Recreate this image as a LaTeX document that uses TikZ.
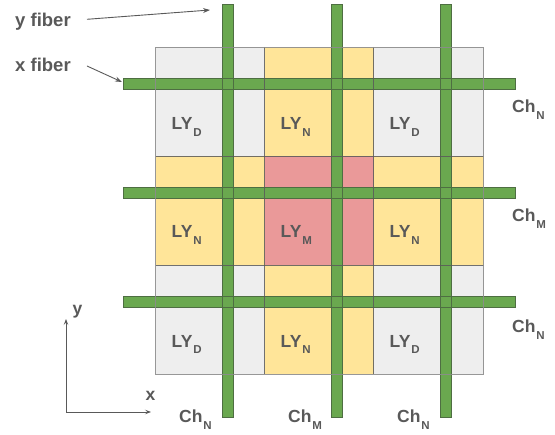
\documentclass[tikz,border=0pt]{standalone}
\usepackage{fontspec}
\setmainfont{Liberation Sans}
\usetikzlibrary{arrows.meta}
\definecolor{cgrey}{HTML}{EEEEEE}
\definecolor{cyellow}{HTML}{FFE599}
\definecolor{cpink}{HTML}{EA9999}
\definecolor{cgreen}{HTML}{6AA84F}
\definecolor{cgreenline}{HTML}{4E6E42}
\definecolor{ctxt}{HTML}{595959}
\definecolor{cgrid}{HTML}{5A5A5A}
\definecolor{couter}{HTML}{8C8C8C}
\newcommand\mysub[1]{\kern0.8pt\raisebox{-6.6pt}{\fontsize{11.5}{12}\selectfont #1}}
\tikzset{
  lab/.style={font=\fontsize{17.5}{20}\selectfont\bfseries, text=ctxt, anchor=base west, inner sep=0pt},
  fiblab/.style={font=\fontsize{18.5}{20}\selectfont\bfseries, text=ctxt, anchor=base west, inner sep=0pt},
  fiber/.style={fill=cgreen, draw=cgreenline, line width=0.9pt},
  cell/.style={line width=0pt},
  gridline/.style={draw=cgrid, line width=0.9pt, opacity=0.85},
  outerline/.style={draw=couter, line width=0.9pt},
  arr/.style={draw=ctxt, line width=0.9pt, -{Stealth[length=7pt,width=5pt]}},
  axarr/.style={draw=ctxt, line width=0.9pt, -{Stealth[length=6pt,width=4.5pt,inset=2.5pt]}}
}
\begin{document}
\begin{tikzpicture}[x=1pt,y=-1pt]
\useasboundingbox (0,0) rectangle (555,435);
% cells
\fill[cgrey]   (155.5,47)    rectangle (264.5,156);
\fill[cyellow] (264.5,47)    rectangle (373.5,156);
\fill[cgrey]   (373.5,47)    rectangle (483.5,156);
\fill[cyellow] (155.5,156)   rectangle (264.5,265.5);
\fill[cpink]   (264.5,156)   rectangle (373.5,265.5);
\fill[cyellow] (373.5,156)   rectangle (483.5,265.5);
\fill[cgrey]   (155.5,265.5) rectangle (264.5,374.5);
\fill[cyellow] (264.5,265.5) rectangle (373.5,374.5);
\fill[cgrey]   (373.5,265.5) rectangle (483.5,374.5);
% fibers (fills)
\fill[cgreen] (123,78) rectangle (515.5,89);
\fill[cgreen] (123,187) rectangle (515.5,198);
\fill[cgreen] (123,296) rectangle (515.5,307);
\fill[cgreen] (222,4) rectangle (233,417.5);
\fill[cgreen] (331,4) rectangle (342,417.5);
\fill[cgreen] (440.5,4) rectangle (451.5,417.5);
% fiber outlines
\draw[cgreenline, line width=0.9pt] (123,78) rectangle (515.5,89);
\draw[cgreenline, line width=0.9pt] (123,187) rectangle (515.5,198);
\draw[cgreenline, line width=0.9pt] (123,296) rectangle (515.5,307);
\draw[cgreenline, line width=0.9pt] (222,4) rectangle (233,417.5);
\draw[cgreenline, line width=0.9pt] (331,4) rectangle (342,417.5);
\draw[cgreenline, line width=0.9pt] (440.5,4) rectangle (451.5,417.5);
% grid lines on top
\draw[gridline] (264.5,47) -- (264.5,374.5);
\draw[gridline] (373.5,47) -- (373.5,374.5);
\draw[gridline] (155.5,156) -- (483.5,156);
\draw[gridline] (155.5,265.5) -- (483.5,265.5);
\draw[outerline, opacity=0.9] (155.5,47) rectangle (483.5,374.5);
% cell labels
\node[lab] (l11) at (171.5,130)   {LY\mysub{D}};
\node[lab] (l12) at (280.5,130)   {LY\mysub{N}};
\node[lab] (l13) at (389.5,130)   {LY\mysub{D}};
\node[lab] (l21) at (171.5,238)   {LY\mysub{N}};
\node[lab] (l22) at (280.5,238)   {LY\mysub{M}};
\node[lab] (l23) at (389.5,238)   {LY\mysub{N}};
\node[lab] (l31) at (171.5,347.3) {LY\mysub{D}};
\node[lab] (l32) at (280.5,347.3) {LY\mysub{N}};
\node[lab] (l33) at (389.5,347.3) {LY\mysub{D}};
% channel labels right
\node[lab] (cr1) at (512,113) {Ch\mysub{N}};
\node[lab] (cr2) at (512,222) {Ch\mysub{M}};
\node[lab] (cr3) at (512,333) {Ch\mysub{N}};
% channel labels bottom
\node[lab] (cb1) at (179,422.7) {Ch\mysub{N}};
\node[lab] (cb2) at (288,422.7) {Ch\mysub{M}};
\node[lab] (cb3) at (397,422.7) {Ch\mysub{N}};
% fiber labels and arrows
\node[fiblab] (yfib) at (15,26.7) {y fiber};
\node[fiblab] (xfib) at (15,71.7) {x fiber};
\coordinate (ya) at (87,19.3);
\coordinate (yb) at (210,10);
\coordinate (xa) at (87,66);
\coordinate (xb) at (122,82);
\draw[arr] (ya) -- (yb);
\draw[arr] (xa) -- (xb);
% axes
\coordinate (org) at (66,412);
\coordinate (ytip) at (66,319);
\coordinate (xtip) at (151,412);
\draw[axarr] (org) -- (ytip);
\draw[axarr] (org) -- (xtip);
\node[lab] (ylab) at (72.5,314.5) {y};
\node[lab] (xlab) at (145.5,401) {x};
\end{tikzpicture}
\end{document}
